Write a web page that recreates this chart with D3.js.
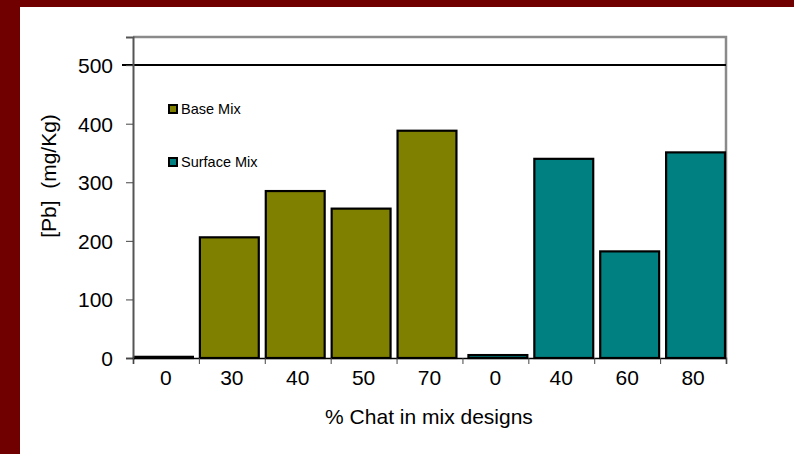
<!DOCTYPE html>
<html lang="en">
  <head>
    <meta charset="UTF-8" />
    <title>Pb in mix designs</title>
    <script src="https://cdn.jsdelivr.net/npm/d3@7/dist/d3.min.js"></script>
    <style>
      html,
      body {
        margin: 0;
        padding: 0;
        background: #700000;
      }
      svg text {
        font-family: 'Liberation Sans', Arial, sans-serif;
        fill: #000;
      }
    </style>
  </head>
  <body>
    <script>
      // data
      const categories = ['0', '30', '40', '50', '70', '0', '40', '60', '80'];
      const seriesNames = ['Base Mix', 'Surface Mix'];
      const baseMix = [2, 206, 285, 255, 388, 0, 0, 0, 0];
      const surfaceMix = [0, 0, 0, 0, 0, 5, 340, 182, 351];
      const yTicks = [0, 100, 200, 300, 400, 500];
      const colors = ['#808000', '#008080'];

      const width = 794,
        height = 454;
      const plot = { left: 133, right: 726, top: 37, bottom: 358 };

      const svg = d3
        .select('body')
        .append('svg')
        .attr('width', width)
        .attr('height', height)
        .style('display', 'block');

      svg
        .append('rect')
        .attr('width', width)
        .attr('height', height)
        .attr('fill', '#700000');

      svg
        .append('rect')
        .attr('x', 20)
        .attr('y', 7)
        .attr('width', width - 20)
        .attr('height', height - 7)
        .attr('fill', '#fff');

      const x = d3
        .scaleBand()
        .domain(d3.range(categories.length))
        .range([plot.left, plot.right])
        .padding(0);

      const xEdges = d3
        .scaleLinear()
        .domain([0, categories.length])
        .range([plot.left, plot.right]);

      const y = d3
        .scaleLinear()
        .domain([0, 548])
        .range([plot.bottom, plot.top]);

      // plot frame (top and right in grey)
      svg
        .append('path')
        .attr(
          'd',
          `M${plot.left},${plot.top}H${plot.right}V${plot.bottom}`,
        )
        .attr('fill', 'none')
        .attr('stroke', '#8a8a8a')
        .attr('stroke-width', 2.5);

      // reference line at 500
      svg
        .append('line')
        .attr('x1', plot.left - 11)
        .attr('x2', plot.right)
        .attr('y1', y(500))
        .attr('y2', y(500))
        .attr('stroke', '#000')
        .attr('stroke-width', 2);

      // bars
      const bw = x.bandwidth();
      const barW = bw - 7;
      const seriesData = [baseMix, surfaceMix];

      seriesData.forEach((values, s) => {
        svg
          .append('g')
          .selectAll('rect')
          .data(values.map((v, i) => ({ i, v })).filter(d => d.v > 0))
          .join('rect')
          .attr('x', d => x(d.i) + 1 + s * (bw - barW - 2))
          .attr('y', d => y(d.v))
          .attr('width', barW)
          .attr('height', d => y(0) - y(d.v))
          .attr('fill', colors[s])
          .attr('stroke', '#000')
          .attr('stroke-width', 2.2);
      });

      // y axis
      const yAxis = svg
        .append('g')
        .attr('transform', `translate(${plot.left},0)`)
        .call(
          d3
            .axisLeft(y)
            .tickValues(yTicks)
            .tickSize(7)
            .tickPadding(13),
        );
      yAxis.select('.domain').attr('stroke', '#555').attr('stroke-width', 2);
      yAxis.selectAll('.tick line').attr('stroke', '#444');
      yAxis
        .selectAll('.tick text')
        .style('font-size', '21px')
        .attr('dy', '0.36em');

      // x axis: ticks on band edges, labels at band centres
      const xTickAxis = svg
        .append('g')
        .attr('transform', `translate(0,${plot.bottom})`)
        .call(
          d3
            .axisBottom(xEdges)
            .tickValues(d3.range(categories.length + 1))
            .tickSize(6)
            .tickFormat(''),
        );
      xTickAxis.select('.domain').attr('stroke', '#000').attr('stroke-width', 1.5);
      xTickAxis.selectAll('.tick line').attr('stroke', '#444');

      const xLabelAxis = svg
        .append('g')
        .attr('transform', `translate(0,${plot.bottom})`)
        .call(
          d3
            .axisBottom(x)
            .tickSize(0)
            .tickPadding(12)
            .tickFormat(i => categories[i]),
        );
      xLabelAxis.select('.domain').remove();
      xLabelAxis.selectAll('.tick text').style('font-size', '21px');

      // axis titles
      svg
        .append('text')
        .attr('x', 429)
        .attr('y', 424)
        .attr('text-anchor', 'middle')
        .style('font-size', '21px')
        .text('% Chat in mix designs');

      svg
        .append('text')
        .attr('transform', 'translate(56,176) rotate(-90)')
        .attr('text-anchor', 'middle')
        .style('font-size', '21px')
        .style('white-space', 'pre')
        .text('[Pb]  (mg/Kg)');

      // legend
      const legend = svg
        .append('g')
        .selectAll('g')
        .data(seriesNames)
        .join('g')
        .attr('transform', (d, i) => `translate(169,${109 + i * 53})`);

      legend
        .append('rect')
        .attr('x', 0)
        .attr('y', -4)
        .attr('width', 8)
        .attr('height', 8)
        .attr('fill', (d, i) => colors[i])
        .attr('stroke', '#000')
        .attr('stroke-width', 2);

      legend
        .append('text')
        .attr('x', 12)
        .attr('dy', '0.36em')
        .style('font-size', '14.5px')
        .text(d => d);
    </script>
  </body>
</html>
